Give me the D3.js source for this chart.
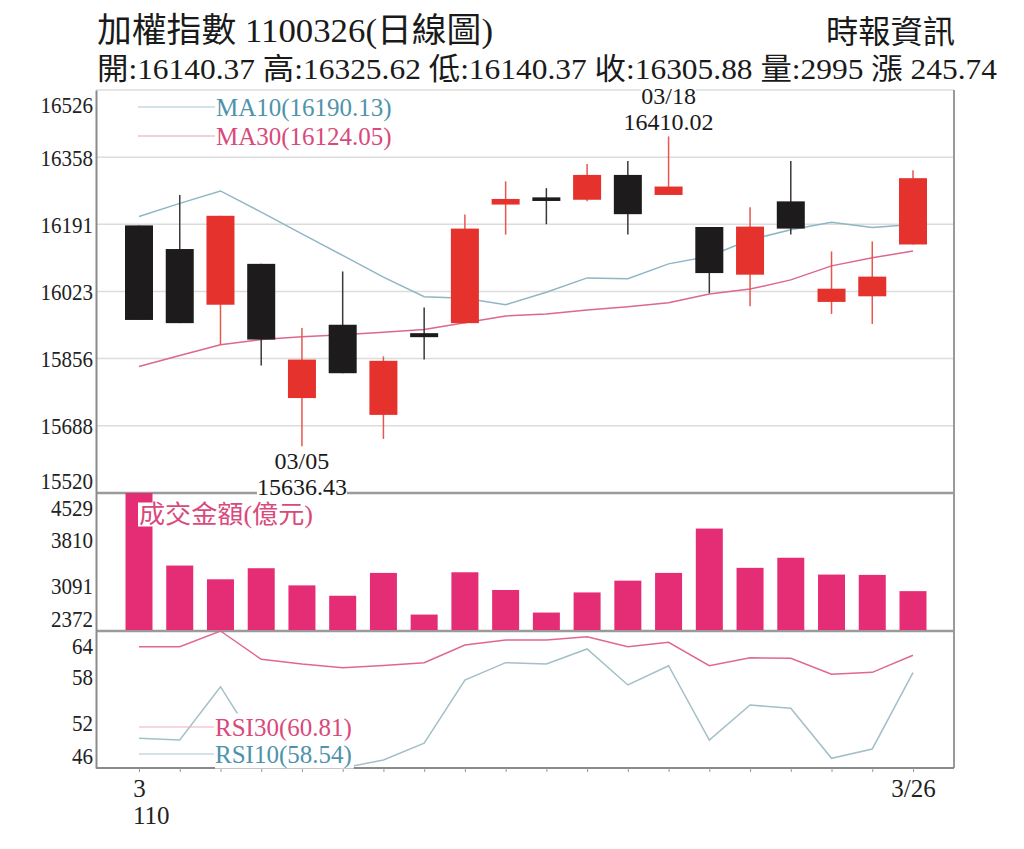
<!DOCTYPE html>
<html lang="zh-Hant">
<head>
<meta charset="UTF-8">
<title>加權指數 1100326 日線圖</title>
<script src="https://d3js.org/d3.v7.min.js"></script>
<style>
  body { margin: 0; background: #fff; }
  text { font-family: "Liberation Serif", "Noto Sans CJK TC", serif; }
</style>
</head>
<body>
<script>
    // trading days (2/26 .. 3/26)
    var dates = ["2/26", "3/2", "3/3", "3/4", "3/5", "3/8", "3/9", "3/10", "3/11", "3/12",
                 "3/15", "3/16", "3/17", "3/18", "3/19", "3/22", "3/23", "3/24", "3/25", "3/26"];

    var openP  = [16188, 16129, 15990, 16092, 15757, 15940, 15715, 15919, 15944, 16240,
                  16258, 16252, 16314, 16264, 16184, 16065, 16248, 15997, 16011, 16140.37];
    var highP  = [16188, 16264, 16212, 16092, 15932, 16073, 15861, 15983, 16215, 16298,
                  16281, 16341, 16349, 16410.02, 16184, 16233, 16349, 16123, 16148, 16325.62];
    var lowP   = [15952, 15944, 15890, 15838, 15636.43, 15819, 15655, 15853, 15944, 16165,
                  16191, 16248, 16165, 16264, 16019, 15986, 16165, 15967, 15942, 16140.37];
    var closeP = [15952, 15944, 16212, 15903, 15853, 15819, 15850, 15909, 16180, 16254,
                  16249, 16314, 16216, 16285, 16069, 16185, 16180, 16030, 16060.14, 16305.88];

    var ma10 = [16210, 16243, 16274, 16221, 16167, 16113, 16059, 16010, 16006, 15990,
                16021, 16057, 16055, 16092, 16111, 16152, 16177, 16196, 16183, 16190.13];
    var ma30 = [15836, 15863, 15890, 15903, 15910, 15915, 15921, 15928, 15945, 15962,
                15967, 15977, 15985, 15995, 16017, 16029, 16052, 16087, 16107, 16124.05];

    // 成交金額 (億元)
    var amount = [4529, 3395, 3180, 3353, 3085, 2923, 3280, 2629, 3290, 3013,
                  2660, 2975, 3159, 3280, 3973, 3359, 3517, 3254, 3249, 2995];

    var rsi30 = [61.94, 61.94, 64.0, 60.28, 59.66, 59.18, 59.47, 59.84, 62.16, 62.82,
                 62.82, 63.25, 61.94, 62.52, 59.44, 60.49, 60.41, 58.31, 58.57, 60.81];
    var rsi10 = [49.90, 49.68, 56.68, 48.2, 47.0, 46.0, 47.05, 49.25, 57.56, 59.84,
                 59.66, 61.64, 56.91, 59.44, 49.68, 54.28, 53.84, 47.27, 48.50, 58.54];

    var priceTicks  = [15520, 15688, 15856, 16023, 16191, 16358, 16526];
    var amountTicks = [2372, 3091, 3810, 4529];
    var rsiTicks    = [46, 52, 58, 64];

    var titleText = "加權指數 1100326(日線圖)";
    var sourceText = "時報資訊";
    var monthLabel = "3", yearLabel = "110";

    // layout
    var w = 1024, h = 849;
    var left = 96, right = 954;
    var pTop = 90, pBot = 493, vBot = 631, rBot = 768;
    var candleW = 28;

    var red = "#e5322d", black = "#1d1b1b";
    var blueLine = "#8fb6c4", blueText = "#4f93ab";
    var pinkLine = "#dc6790", pinkText = "#d9497b";
    var barColor = "#e52d75";

    var svg = d3.select("body").append("svg")
        .attr("width", w)
        .attr("height", h);

    var x = d3.scalePoint().domain(dates).range([139, 913]);
    var yP = d3.scaleLinear().domain(d3.extent(priceTicks)).range([pBot, pTop]);
    var yV = d3.scaleLinear().domain(d3.extent(amountTicks)).range([vBot, pBot]);
    var yR = d3.scaleLinear().domain(d3.extent(rsiTicks)).range([rBot, vBot]);
    var idx = d3.range(dates.length);
    var last = dates.length - 1;

    // ---- header
    svg.append("text")
        .attr("x", 97).attr("y", 30)
        .attr("dominant-baseline", "central")
        .attr("font-size", 34).attr("fill", "#1a1a1a")
        .attr("textLength", 396).attr("lengthAdjust", "spacingAndGlyphs")
        .text(titleText);

    svg.append("text")
        .attr("x", 826).attr("y", 32)
        .attr("dominant-baseline", "central")
        .attr("font-size", 32).attr("fill", "#1a1a1a")
        .attr("textLength", 129).attr("lengthAdjust", "spacingAndGlyphs")
        .text(sourceText);

    var change = closeP[last] - closeP[last - 1];
    var info = "開:" + openP[last].toFixed(2) + " 高:" + highP[last].toFixed(2) +
        " 低:" + lowP[last].toFixed(2) + " 收:" + closeP[last].toFixed(2) +
        " 量:" + amount[last] + " 漲 " + change.toFixed(2);
    svg.append("text")
        .attr("x", 97).attr("y", 68)
        .attr("dominant-baseline", "central")
        .attr("font-size", 30).attr("fill", "#1a1a1a")
        .attr("textLength", 900).attr("lengthAdjust", "spacingAndGlyphs")
        .text(info);

    // ---- grid + frame
    svg.append("g").selectAll("line")
        .data(priceTicks.slice(1))
        .join("line")
        .attr("x1", left).attr("x2", right)
        .attr("y1", function(d) { return yP(d); })
        .attr("y2", function(d) { return yP(d); })
        .attr("stroke", "#dcdcdc").attr("stroke-width", 1.5);

    [pBot, vBot].forEach(function(y) {
        svg.append("line")
            .attr("x1", left).attr("x2", right).attr("y1", y).attr("y2", y)
            .attr("stroke", "#9a9a9a").attr("stroke-width", 2.5);
    });
    svg.append("line")
        .attr("x1", right).attr("x2", right).attr("y1", pTop).attr("y2", rBot)
        .attr("stroke", "#9a9a9a").attr("stroke-width", 2);

    // left axes, end labels pushed inside the panel
    function leftAxis(scale, ticks, top, bottom) {
        var g = svg.append("g")
            .attr("transform", "translate(" + left + ",0)")
            .call(d3.axisLeft(scale).tickValues(ticks).tickSize(0).tickPadding(3).tickFormat(d3.format("d")));
        g.select(".domain").attr("stroke", "#8a8a8a").attr("stroke-width", 2);
        g.selectAll(".tick text")
            .attr("font-size", 24)
            .attr("fill", "#222")
            .attr("dy", null)
            .attr("dominant-baseline", "central")
            .attr("textLength", function(d) { return String(d).length * 10.5; })
            .attr("lengthAdjust", "spacingAndGlyphs")
            .attr("y", function(d) {
                var y = scale(d);
                return Math.max(top + 14, Math.min(bottom - 13, y)) - y;
            });
        return g;
    }
    leftAxis(yP, priceTicks, pTop, pBot);
    leftAxis(yV, amountTicks, pBot, vBot);
    leftAxis(yR, rsiTicks, vBot, rBot);

    // bottom axis
    var gx = svg.append("g")
        .attr("transform", "translate(0," + rBot + ")")
        .call(d3.axisBottom(x).tickSize(4).tickPadding(7).tickSizeOuter(0)
            .tickFormat(function(d, i) { return i === 0 ? monthLabel : (i === last ? d : ""); }));
    gx.select(".domain").attr("stroke", "#8a8a8a").attr("stroke-width", 2)
        .attr("d", "M" + left + ",0H" + right);
    gx.selectAll(".tick line").attr("stroke", "#999");
    gx.selectAll(".tick text").attr("font-size", 25).attr("fill", "#222");
    svg.append("text")
        .attr("x", 133).attr("y", 815)
        .attr("dominant-baseline", "central")
        .attr("font-size", 25).attr("fill", "#222")
        .text(yearLabel);

    // ---- moving averages
    var lineP = d3.line()
        .x(function(d, i) { return x(dates[i]); })
        .y(function(d) { return yP(d); });

    svg.append("path").datum(ma30).attr("d", lineP)
        .attr("fill", "none").attr("stroke", pinkLine).attr("stroke-width", 1.5);
    svg.append("path").datum(ma10).attr("d", lineP)
        .attr("fill", "none").attr("stroke", blueLine).attr("stroke-width", 1.5);

    // ---- candles
    var candles = svg.append("g").selectAll("g")
        .data(idx)
        .join("g");

    candles.append("line")
        .attr("x1", function(i) { return x(dates[i]); })
        .attr("x2", function(i) { return x(dates[i]); })
        .attr("y1", function(i) { return yP(highP[i]); })
        .attr("y2", function(i) { return yP(lowP[i]); })
        .attr("stroke", function(i) { return closeP[i] >= openP[i] ? "#e6574f" : "#3a3838"; })
        .attr("stroke-width", 1.5);

    candles.append("rect")
        .attr("x", function(i) { return x(dates[i]) - candleW / 2; })
        .attr("width", candleW)
        .attr("y", function(i) { return yP(Math.max(openP[i], closeP[i])); })
        .attr("height", function(i) { return Math.max(3, Math.abs(yP(openP[i]) - yP(closeP[i]))); })
        .attr("fill", function(i) { return closeP[i] >= openP[i] ? red : black; });

    // ---- legends (white box behind text)
    function legend(x1, x2, y, label, lineColor, textColor, size) {
        svg.append("line")
            .attr("x1", x1).attr("x2", x2).attr("y1", y).attr("y2", y)
            .attr("stroke", lineColor).attr("stroke-width", 1.2);
        var bg = svg.append("rect").attr("fill", "#fff");
        var t = svg.append("text")
            .attr("x", x2 + 1).attr("y", y)
            .attr("dominant-baseline", "central")
            .attr("font-size", size).attr("fill", textColor)
            .text(label);
        var b = t.node().getBBox();
        bg.attr("x", b.x).attr("y", b.y).attr("width", b.width + 2).attr("height", b.height);
    }
    legend(138, 215, 107, "MA10(" + ma10[last].toFixed(2) + ")", "#a9c8d3", blueText, 25);
    legend(138, 215, 136, "MA30(" + ma30[last].toFixed(2) + ")", "#e6a3b8", pinkText, 25);

    // ---- high / low notes
    function fmtDate(d) {
        return d.split("/").map(function(s) { return s.length < 2 ? "0" + s : s; }).join("/");
    }
    var iHi = d3.maxIndex(highP), iLo = d3.minIndex(lowP);
    function note(cx, y1, y2, dateTxt, valTxt) {
        [[y1, dateTxt], [y2, valTxt]].forEach(function(p) {
            var bg = svg.append("rect").attr("fill", "#fff");
            var t = svg.append("text")
                .attr("x", cx).attr("y", p[0])
                .attr("text-anchor", "middle").attr("dominant-baseline", "central")
                .attr("font-size", 24).attr("fill", "#1a1a1a")
                .text(p[1]);
            var b = t.node().getBBox();
            bg.attr("x", b.x).attr("y", b.y + 3).attr("width", b.width).attr("height", b.height - 6);
        });
    }
    note(x(dates[iHi]), yP(highP[iHi]) - 40, yP(highP[iHi]) - 14, fmtDate(dates[iHi]), highP[iHi].toFixed(2));
    note(x(dates[iLo]), yP(lowP[iLo]) + 15, yP(lowP[iLo]) + 41, fmtDate(dates[iLo]), lowP[iLo].toFixed(2));

    // ---- amount bars
    svg.append("g").selectAll("rect")
        .data(amount)
        .join("rect")
        .attr("x", function(d, i) { return x(dates[i]) - candleW / 2 + 0.5; })
        .attr("width", candleW - 1)
        .attr("y", function(d) { return yV(d); })
        .attr("height", function(d) { return vBot - 1 - yV(d); })
        .attr("fill", barColor);

    var volBg = svg.append("rect").attr("fill", "#fff");
    var volTitle = svg.append("text")
        .attr("x", 139).attr("y", 514)
        .attr("dominant-baseline", "central")
        .attr("font-size", 25).attr("fill", pinkText)
        .attr("textLength", 174).attr("lengthAdjust", "spacingAndGlyphs")
        .text("成交金額(億元)");
    var vb = volTitle.node().getBBox();
    volBg.attr("x", vb.x - 1).attr("y", vb.y + 2).attr("width", vb.width + 2).attr("height", vb.height - 4);

    // ---- RSI
    var lineR = d3.line()
        .x(function(d, i) { return x(dates[i]); })
        .y(function(d) { return yR(d); });

    svg.append("path").datum(rsi10).attr("d", lineR)
        .attr("fill", "none").attr("stroke", "#a3bfc8").attr("stroke-width", 1.5);
    svg.append("path").datum(rsi30).attr("d", lineR)
        .attr("fill", "none").attr("stroke", "#e06890").attr("stroke-width", 1.5);

    legend(139, 214, 727, "RSI30(" + rsi30[last].toFixed(2) + ")", "#eab0c2", pinkText, 25);
    legend(139, 214, 754, "RSI10(" + rsi10[last].toFixed(2) + ")", "#a9c5cf", blueText, 25);
</script>
</body>
</html>
